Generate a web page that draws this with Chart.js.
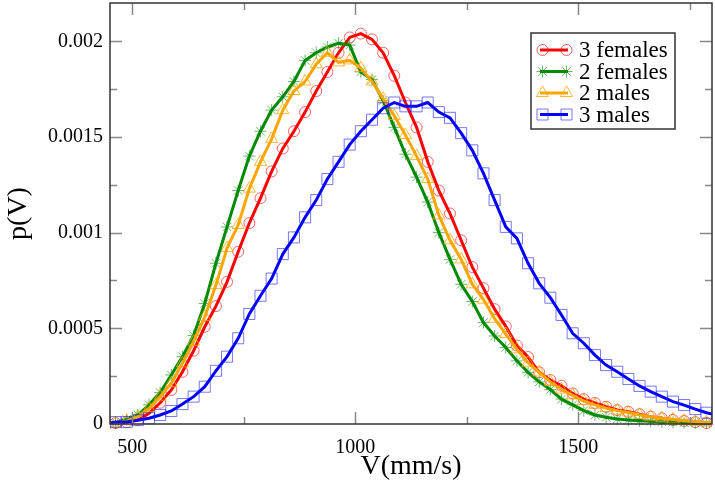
<!DOCTYPE html>
<html>
<head>
<meta charset="utf-8">
<title>p(V)</title>
<script src="https://cdn.jsdelivr.net/npm/chart.js@4.4.1/dist/chart.umd.min.js"></script>
<style>
  html, body { margin: 0; padding: 0; background: #fff; }
  #wrap { width: 715px; height: 483px; }
</style>
</head>
<body>
<div id="wrap"><canvas id="chartPV" width="715" height="483"></canvas></div>
<script>
// bin centres (mm/s), the first and last fall outside the axis and get clipped
const velocidades = [
  437.5, 462.5, 487.5, 512.5, 537.5, 562.5, 587.5, 612.5, 637.5, 662.5,
  687.5, 712.5, 737.5, 762.5, 787.5, 812.5, 837.5, 862.5, 887.5, 912.5,
  937.5, 962.5, 987.5, 1012.5, 1037.5, 1062.5, 1087.5, 1112.5, 1137.5, 1162.5,
  1187.5, 1212.5, 1237.5, 1262.5, 1287.5, 1312.5, 1337.5, 1362.5, 1387.5, 1412.5,
  1437.5, 1462.5, 1487.5, 1512.5, 1537.5, 1562.5, 1587.5, 1612.5, 1637.5, 1662.5,
  1687.5, 1712.5, 1737.5, 1762.5, 1787.5, 1812.5
];

const hembras3 = [
  0, 0.000005, 0.00001, 0.000021, 0.000056, 0.000111, 0.000178, 0.000273, 0.000383, 0.000508,
  0.000616, 0.000743, 0.0009, 0.00105, 0.00118, 0.00132, 0.00144, 0.00153, 0.00163, 0.00174,
  0.00184, 0.00194, 0.00202, 0.00204, 0.00201, 0.00194, 0.00182, 0.00168, 0.00155, 0.00137,
  0.00122, 0.0011, 0.00096, 0.00082, 0.00071, 0.0006, 0.00051, 0.00041, 0.00035, 0.00027,
  0.00023, 0.0002, 0.00016, 0.00013, 0.00011, 0.00009, 0.000073, 0.000064, 0.000051, 0.000038,
  0.00003, 0.000021, 0.000016, 0.00001, 0.000005, 0.000003
];

const hembras2 = [
  0, 0.000005, 0.000024, 0.000047, 0.0001, 0.000164, 0.000256, 0.000352, 0.000463, 0.00063,
  0.00084, 0.00103, 0.00122, 0.0014, 0.00153, 0.00164, 0.00171, 0.00179, 0.0019, 0.00194,
  0.00197, 0.00199, 0.00198, 0.00184, 0.0018, 0.00169, 0.00155, 0.00141, 0.00129, 0.00116,
  0.001, 0.00086, 0.00073, 0.00064, 0.00053, 0.00046, 0.0004, 0.00033, 0.00027, 0.00022,
  0.00018, 0.00013, 0.0001, 0.00007, 0.000047, 0.000035, 0.000026, 0.000021, 0.000017, 0.000014,
  0.000011, 0.000009, 0.000007, 0.000005, 0.000004, 0.000003
];

const machos2 = [
  0, 0.000005, 0.000015, 0.000038, 0.000082, 0.000143, 0.000213, 0.000317, 0.00043, 0.00056,
  0.000726, 0.00092, 0.00104, 0.00123, 0.00137, 0.00149, 0.00164, 0.00174, 0.00179, 0.00188,
  0.00194, 0.00189, 0.0019, 0.00186, 0.00179, 0.0017, 0.00161, 0.00151, 0.0014, 0.00128,
  0.00109, 0.00096, 0.00086, 0.00073, 0.00065, 0.00055, 0.00047, 0.00039, 0.00032, 0.00027,
  0.00022, 0.00018, 0.00015, 0.00012, 0.0001, 0.000083, 0.00007, 0.00006, 0.000048, 0.000038,
  0.00003, 0.000023, 0.000017, 0.000012, 0.000008, 0.000005
];

const machos3 = [
  0, 0.00001, 0.00001, 0.00002, 0.00003, 0.000047, 0.000068, 0.000104, 0.000143, 0.000195,
  0.000278, 0.000352, 0.000448, 0.000575, 0.00067, 0.00076, 0.000888, 0.000975, 0.00108, 0.00117,
  0.00128, 0.00137, 0.00146, 0.00153, 0.00159, 0.00165, 0.00168, 0.00166, 0.00166, 0.00168,
  0.00163, 0.0016, 0.00152, 0.00143, 0.00131, 0.00117, 0.00103, 0.00097, 0.00084, 0.000735,
  0.00066, 0.00057, 0.000474, 0.000422, 0.00036, 0.000308, 0.000273, 0.000235, 0.000199, 0.000169,
  0.000143, 0.000117, 0.000099, 0.000078, 0.000059, 0.000046
];

const ticksX = [500, 1000, 1500];
const ticksY = [0, 0.0005, 0.001, 0.0015, 0.002];
const minorX = [750, 1250, 1750];
const minorY = [0.00025, 0.00075, 0.00125, 0.00175];

const serif = '"Liberation Serif", "DejaVu Serif", serif';

function pares(ys) {
  return velocidades.map((v, i) => ({ x: v, y: ys[i] }));
}

function serie(label, ys, linea, marca, estilo, radio, orden) {
  return {
    label: label,
    data: pares(ys),
    showLine: true,
    borderColor: linea,
    borderWidth: 3,
    backgroundColor: 'transparent',
    pointStyle: estilo,
    pointRadius: radio,
    pointBorderColor: marca,
    pointBackgroundColor: 'transparent',
    pointBorderWidth: 1,
    tension: 0,
    order: orden,
    clip: { left: 0, right: 0, top: 6, bottom: 10 }
  };
}

const datasets = [
  serie('3 females', hembras3, '#ff0000', 'rgba(255,0,0,0.6)', 'circle', 5.5, 4),
  serie('2 females', hembras2, '#008b00', 'rgba(0,139,0,0.6)', 'star', 6, 3),
  serie('2 males', machos2, '#ffa500', 'rgba(255,165,0,0.8)', 'triangle', 7, 2),
  serie('3 males', machos3, '#0000ff', 'rgba(30,30,255,0.6)', 'rect', 7.8, 1)
];

// frame, inward ticks and the boxed legend
const marco = {
  id: 'marco',
  afterDraw(chart) {
    const { ctx, chartArea: a, scales } = chart;
    const sx = scales.x, sy = scales.y;
    ctx.save();

    ctx.strokeStyle = '#888';
    ctx.lineWidth = 1.5;
    function tx(v, len) {
      const p = Math.round(sx.getPixelForValue(v)) + 0.5;
      ctx.beginPath();
      ctx.moveTo(p, a.bottom); ctx.lineTo(p, a.bottom - len);
      ctx.moveTo(p, a.top); ctx.lineTo(p, a.top + len);
      ctx.stroke();
    }
    function ty(v, len) {
      const p = Math.round(sy.getPixelForValue(v)) + 0.5;
      ctx.beginPath();
      ctx.moveTo(a.left, p); ctx.lineTo(a.left + len, p);
      ctx.moveTo(a.right, p); ctx.lineTo(a.right - len, p);
      ctx.stroke();
    }
    ticksX.forEach(v => tx(v, 12));
    minorX.forEach(v => tx(v, 7));
    ticksY.forEach(v => ty(v, 12));
    minorY.forEach(v => ty(v, 7));

    ctx.strokeStyle = '#333';
    ctx.lineWidth = 1.5;
    ctx.strokeRect(a.left, a.top, a.right - a.left, a.bottom - a.top);

    // legend
    const bx = 531, by = 33, bw = 144, bh = 96;
    ctx.fillStyle = '#fff';
    ctx.fillRect(bx, by, bw, bh);
    ctx.strokeStyle = '#333';
    ctx.lineWidth = 1.5;
    ctx.strokeRect(bx, by, bw, bh);

    ctx.font = '23px ' + serif;
    ctx.textBaseline = 'middle';
    ctx.textAlign = 'left';
    datasets.forEach((d, i) => {
      const y = 50 + i * 21.5;
      ctx.strokeStyle = d.borderColor;
      ctx.lineWidth = 3;
      ctx.beginPath();
      ctx.moveTo(540, y); ctx.lineTo(568, y);
      ctx.stroke();
      [542.5, 566.5].forEach(x => {
        ctx.strokeStyle = d.pointBorderColor;
        ctx.fillStyle = 'transparent';
        ctx.lineWidth = 1;
        Chart.helpers.drawPoint(ctx, {
          pointStyle: d.pointStyle, radius: d.pointRadius, borderWidth: 1, rotation: 0
        }, x, y);
      });
      ctx.fillStyle = '#000';
      ctx.fillText(d.label, 579, y + 1);
    });
    ctx.restore();
  }
};

function sinRelleno(s) {
  s.paddingTop = 0;
  s.paddingBottom = 0;
  s.paddingLeft = 0;
  s.paddingRight = 0;
}

new Chart(document.getElementById('chartPV'), {
  type: 'scatter',
  data: { datasets: datasets },
  options: {
    responsive: false,
    devicePixelRatio: 1,
    animation: false,
    layout: { autoPadding: false, padding: { left: 0, right: 3, top: 3, bottom: 0 } },
    plugins: { legend: { display: false }, tooltip: { enabled: false } },
    scales: {
      x: {
        type: 'linear',
        min: 450,
        max: 1800,
        grid: { display: false, drawTicks: false },
        border: { display: false },
        afterFit(s) { s.height = 59; sinRelleno(s); },
        afterBuildTicks(s) { s.ticks = ticksX.map(v => ({ value: v })); },
        ticks: {
          color: '#000',
          font: { family: serif, size: 20 },
          padding: 12,
          maxRotation: 0,
          callback: (v) => String(v)
        },
        title: {
          display: true,
          text: 'V(mm/s)',
          color: '#000',
          font: { family: serif, size: 28 },
          padding: { top: 0, bottom: 0 }
        }
      },
      y: {
        type: 'linear',
        min: 0,
        max: 0.0022,
        grid: { display: false, drawTicks: false },
        border: { display: false },
        afterFit(s) { s.width = 110; sinRelleno(s); },
        afterBuildTicks(s) { s.ticks = ticksY.map(v => ({ value: v })); },
        ticks: {
          color: '#000',
          font: { family: serif, size: 20 },
          padding: 7,
          callback: (v) => String(Number(v.toFixed(5)))
        },
        title: {
          display: true,
          text: 'p(V)',
          color: '#000',
          font: { family: serif, size: 28 },
          padding: { top: 2, bottom: 0 }
        }
      }
    }
  },
  plugins: [marco]
});
</script>
</body>
</html>
